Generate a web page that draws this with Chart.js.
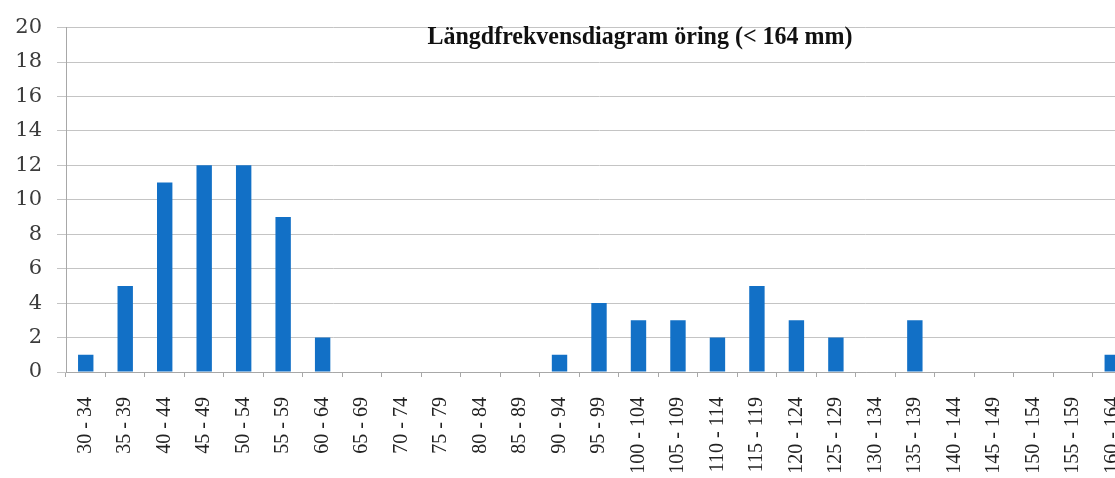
<!DOCTYPE html>
<html>
<head>
<meta charset="utf-8">
<script src="https://cdn.jsdelivr.net/npm/chart.js@4"></script>
<style>
  html, body { margin: 0; padding: 0; background: #fff; overflow: hidden; }
  #wrap { width: 1133px; height: 478px; }
</style>
</head>
<body>
<div id="wrap"><canvas id="c" width="1133" height="478"></canvas></div>
<script>
const categories = ["30 - 34","35 - 39","40 - 44","45 - 49","50 - 54","55 - 59","60 - 64","65 - 69","70 - 74","75 - 79","80 - 84","85 - 89","90 - 94","95 - 99","100 - 104","105 - 109","110 - 114","115 - 119","120 - 124","125 - 129","130 - 134","135 - 139","140 - 144","145 - 149","150 - 154","155 - 159","160 - 164"];
const counts = [1,5,11,12,12,9,2,0,0,0,0,0,1,4,3,3,2,5,3,2,0,3,0,0,0,0,1];
const yTicks = [0,2,4,6,8,10,12,14,16,18,20];
const chartTitle = "Längdfrekvensdiagram öring (< 164 mm)";

const titlePlugin = {
  id: 'innerTitle',
  afterDraw(chart) {
    const ctx = chart.ctx;
    ctx.save();
    ctx.font = 'bold 25px "Liberation Serif"';
    ctx.fillStyle = '#111';
    ctx.textBaseline = 'middle';
    ctx.textAlign = 'center';
    const w = ctx.measureText(chartTitle).width;
    const target = 425;
    const sx = target / w;
    const cx = 640, cy = 38;
    ctx.translate(cx, cy);
    ctx.scale(sx, 1);
    ctx.fillText(chartTitle, 0, 0);
    ctx.restore();
  }
};

new Chart(document.getElementById('c'), {
  type: 'bar',
  data: {
    labels: categories,
    datasets: [{
      data: counts,
      backgroundColor: '#1270c6',
      borderWidth: 0,
      barPercentage: 0.39,
      categoryPercentage: 1.0
    }]
  },
  options: {
    responsive: false,
    animation: false,
    layout: { padding: { top: 24, right: 1, left: 0, bottom: 0 } },
    plugins: { legend: { display: false }, tooltip: { enabled: false }, title: { display: false } },
    scales: {
      x: {
        afterFit(scale) { scale.height = 106; scale.paddingLeft = 0; scale.paddingRight = 0; },
        grid: { display: true, drawOnChartArea: false, offset: true, tickLength: 5, color: '#a8a8a8' },
        border: { color: '#a8a8a8' },
        ticks: {
          autoSkip: false, minRotation: 90, maxRotation: 90, padding: 20,
          color: '#222', font: { family: '"Liberation Serif"', size: 20 }
        }
      },
      y: {
        min: 0, max: 20,
        afterFit(scale) { scale.width = 66; },
        afterBuildTicks(scale) { scale.ticks = yTicks.map(v => ({ value: v })); },
        grid: { color: '#c4c4c4', tickLength: 9 },
        border: { color: '#a8a8a8' },
        ticks: {
          padding: 15, color: '#3c3c3c',
          font: { family: '"DejaVu Serif"', size: 21 }
        }
      }
    }
  },
  plugins: [titlePlugin]
});
</script>
</body>
</html>
